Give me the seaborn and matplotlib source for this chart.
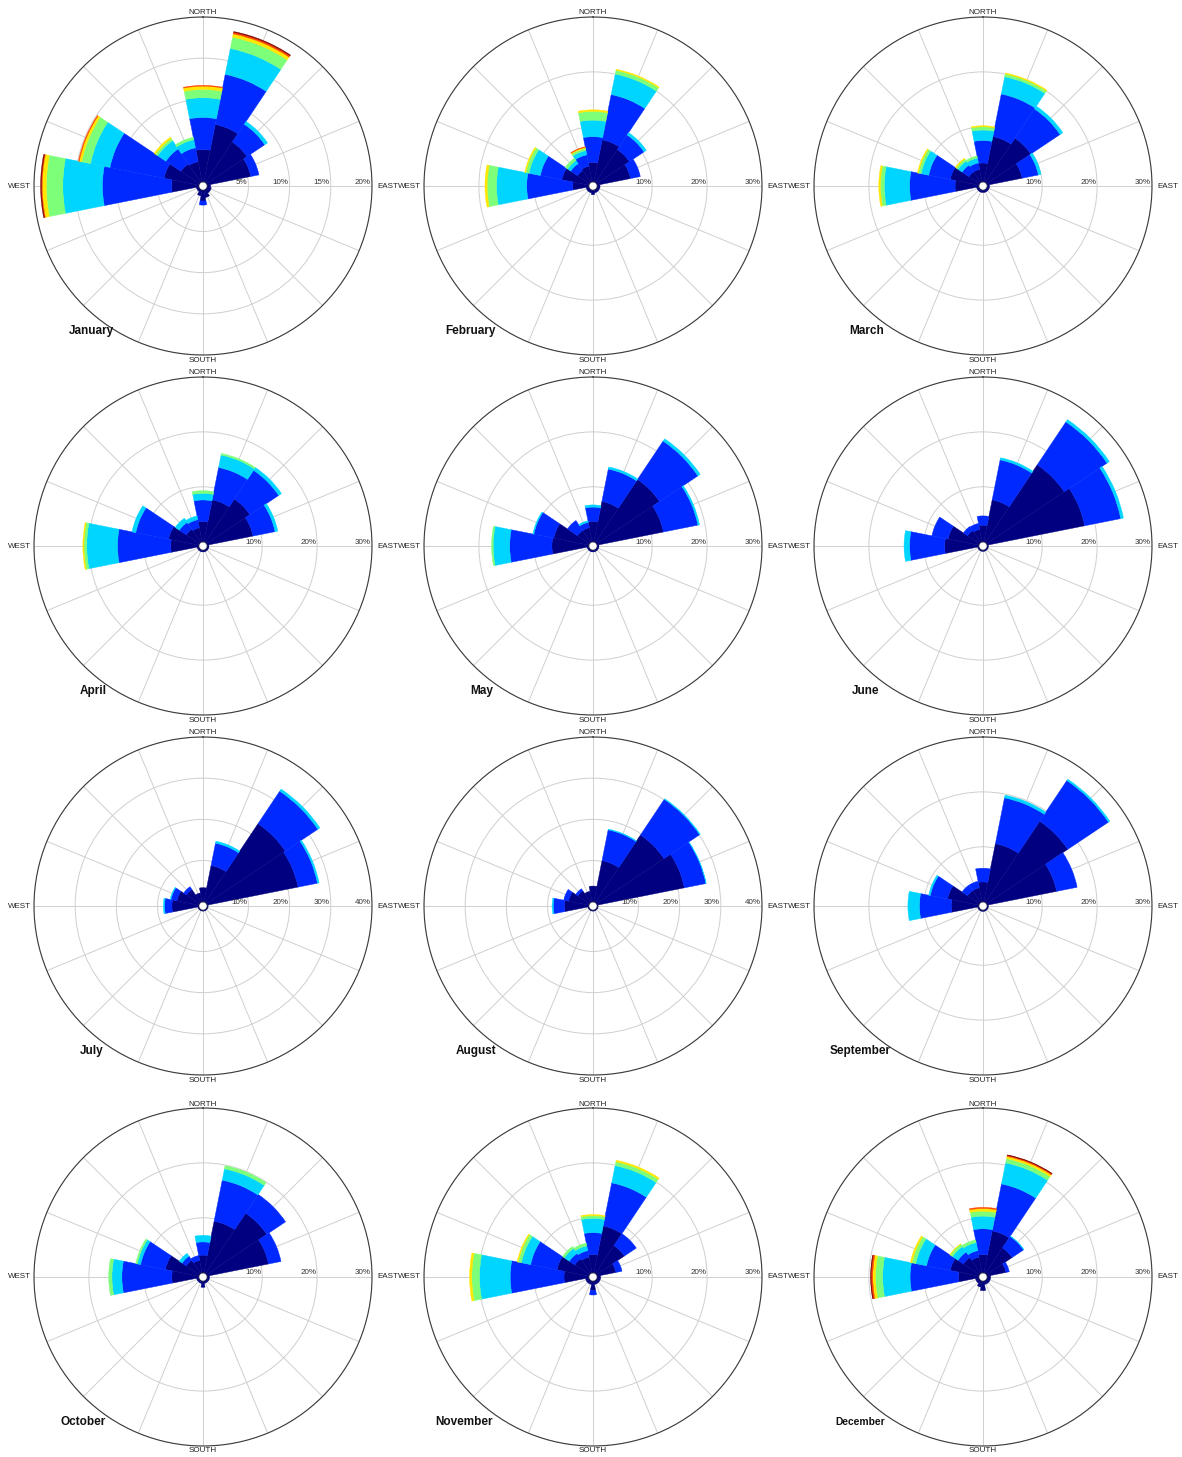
import numpy as np
import matplotlib
matplotlib.use("Agg")
import matplotlib.pyplot as plt
import seaborn as sns

# 16 compass sectors, clockwise from north
directions = ["N", "NNE", "NE", "ENE", "E", "ESE", "SE", "SSE",
              "S", "SSW", "SW", "WSW", "W", "WNW", "NW", "NNW"]

months = ["January", "February", "March", "April", "May", "June",
          "July", "August", "September", "October", "November", "December"]

# frequency (%) per direction, split by speed class (lowest class first)
freq_jan = [[3.9, 3.9, 2.4, 1.0, 0.4, 0.1], [7.1, 6.2, 3.2, 1.4, 0.4, 0.2, 0.1],
            [5.9, 2.6, 0.4], [5.4, 1.0], [0.4], [0.5], [0.5], [0.9],
            [1.3, 0.5], [0.7], [0.3], [0.3],
            [3.3, 8.4, 4.8, 2.0, 0.5, 0.1, 0.1], [4.3, 6.7, 2.4, 1.1, 0.3, 0.1],
            [2.7, 2.2, 1.2, 0.3, 0.2], [2.5, 1.7, 1.0, 0.3]]
freq_feb = [[3.5, 4.7, 3.0, 1.6, 0.3], [7.8, 8.4, 3.8, 0.7, 0.2],
            [7.2, 3.2, 0.5], [6.2, 1.8], [0.5], [0.5], [0.5], [0.5],
            [0.8], [0.5], [0.5], [0.5],
            [2.9, 8.4, 5.5, 1.7, 0.4], [5.0, 4.0, 2.1, 0.6, 0.2],
            [2.6, 1.5, 0.7, 0.5], [2.9, 2.1, 0.8, 0.4, 0.2, 0.1]]
freq_mar = [[3.4, 4.1, 1.9, 0.6, 0.2], [8.4, 7.9, 3.2, 0.5, 0.2],
            [9.7, 6.4, 0.6], [6.5, 3.0, 0.5], [0.4], [0.4], [0.4], [0.4],
            [0.4], [0.4], [0.4], [0.4],
            [4.3, 8.3, 4.6, 0.7, 0.3], [5.3, 4.0, 1.4, 0.5, 0.2],
            [2.3, 1.5, 0.9, 0.4, 0.2], [2.3, 1.2, 0.9, 0.4]]
freq_apr = [[3.7, 3.9, 1.2, 0.5], [7.8, 6.0, 2.3, 0.3],
            [9.5, 6.3, 0.6], [8.5, 4.1, 0.5], [0.3], [0.3], [0.3], [0.3],
            [0.3], [0.3], [0.3], [0.3],
            [5.1, 9.7, 5.6, 0.5, 0.2], [5.6, 6.1, 0.7],
            [2.9, 1.5, 0.9], [2.6, 1.5, 0.7]]
freq_may = [[3.7, 2.6, 0.4], [7.5, 6.0, 0.4],
            [13.8, 8.4, 0.5], [12.3, 6.4, 0.3], [0.3], [0.3], [0.3], [0.3],
            [0.3], [0.3], [0.3], [0.3],
            [6.7, 7.7, 3.0, 0.3], [6.5, 3.7, 0.2],
            [2.6, 2.2], [2.6, 1.0, 0.3]]
freq_jun = [[3.0, 1.7], [7.8, 7.4, 0.4],
            [17.0, 9.4, 0.5], [18.1, 6.7, 0.5], [0.2], [0.2], [0.2], [0.2],
            [0.2], [0.2], [0.2], [0.2],
            [6.2, 6.4, 1.0], [5.7, 3.0],
            [2.6, 0.9], [2.3, 1.1]]
freq_jul = [[3.4], [9.0, 5.5, 0.5],
            [23.0, 9.5, 0.6], [22.5, 4.8, 0.4], [0.2], [0.2], [0.2], [0.2],
            [0.2], [0.2], [0.2], [0.2],
            [6.5, 1.8, 0.3], [5.4, 1.5, 0.2],
            [3.8, 0.8], [2.2]]
freq_aug = [[3.8], [10.2, 7.6, 0.2],
            [19.7, 10.4, 0.2], [21.6, 5.3, 0.1], [0.2], [0.2], [0.2], [0.2],
            [0.2], [0.2], [0.2], [0.2],
            [5.9, 2.7, 0.3], [5.0, 1.2],
            [3.4, 0.6], [2.6]]
freq_sep = [[3.6, 2.5], [10.8, 8.5, 0.5],
            [17.8, 8.9, 0.3], [12.9, 3.8], [0.2], [0.2], [0.2], [0.2],
            [0.2], [0.2], [0.2], [0.2],
            [5.0, 5.8, 2.1], [5.8, 3.2, 0.3],
            [2.6, 1.2], [2.6, 1.2]]
freq_oct = [[3.2, 2.4, 1.2], [9.6, 7.6, 2.1, 0.6],
            [13.2, 4.1], [11.4, 2.3], [0.4], [0.4], [0.4], [0.4],
            [1.1], [0.4], [0.4], [0.4],
            [4.9, 9.1, 1.8, 0.6], [6.2, 4.6, 0.6, 0.3],
            [2.9, 0.9, 0.6], [2.3, 0.9]]
freq_nov = [[3.3, 4.0, 2.6, 0.5, 0.2], [8.7, 8.0, 3.2, 0.7, 0.3],
            [6.1, 2.6], [3.5, 1.1], [0.6], [0.6], [0.6], [0.6],
            [1.7, 0.8], [0.6], [0.6], [0.6],
            [4.5, 9.8, 5.6, 1.4, 0.4], [5.9, 4.9, 1.7, 0.6, 0.2],
            [3.2, 1.2, 1.1, 0.4], [2.9, 1.2, 0.9, 0.5]]
freq_dec = [[3.3, 4.7, 2.3, 0.9, 0.5, 0.2], [7.8, 8.7, 3.9, 0.8, 0.4, 0.2, 0.1],
            [5.6, 2.5, 0.1], [3.5, 0.6], [0.6], [0.6], [0.6], [0.6],
            [1.7], [1.1], [0.6], [0.6],
            [3.7, 8.8, 5.0, 1.3, 0.5, 0.3, 0.1], [5.3, 4.4, 2.0, 0.7, 0.3],
            [3.5, 1.2, 1.2, 0.5, 0.1], [2.9, 1.2, 1.5, 0.5]]

# outer ring (%) and ring ticks of each rose
r_max = [20, 30, 30, 30, 30, 30, 40, 40, 30, 30, 30, 30]
r_ticks = [[5, 10, 15, 20], [10, 20, 30], [10, 20, 30], [10, 20, 30],
           [10, 20, 30], [10, 20, 30], [10, 20, 30, 40], [10, 20, 30, 40],
           [10, 20, 30], [10, 20, 30], [10, 20, 30], [10, 20, 30]]

monthly = [freq_jan, freq_feb, freq_mar, freq_apr, freq_may, freq_jun,
           freq_jul, freq_aug, freq_sep, freq_oct, freq_nov, freq_dec]

N_BINS = 7

sns.set_theme(style="white")
plt.rcParams["font.family"] = ["Liberation Sans", "DejaVu Sans"]
colors = sns.color_palette(list(plt.get_cmap("jet")(np.linspace(0, 1, N_BINS))[:, :3]))

W, H = 1182, 1457
fig = plt.figure(figsize=(W / 100, H / 100), dpi=100)

R = 169.0          # rose radius in pixels
HOLE = 4.3         # empty centre radius in pixels
col_x = [203, 593, 983]
row_y = [186, 546, 906, 1277]
title_dx = [-112, -123, -116, -110, -111, -117, -111, -117, -123, -120, -129, -123]
title_size = [8.5] * 11 + [7.4]

theta = np.deg2rad(np.arange(16) * 22.5)
width = 2 * np.pi / 16

for m, (name, table) in enumerate(zip(months, monthly)):
    cx = col_x[m % 3]
    cy = row_y[m // 3]
    ax = fig.add_axes([(cx - R) / W, 1 - (cy + R) / H, 2 * R / W, 2 * R / H],
                      projection="polar")
    ax.set_theta_zero_location("N")
    ax.set_theta_direction(-1)
    vmax = r_max[m]
    ax.set_rorigin(-HOLE * vmax / (R - HOLE))
    ax.set_ylim(0, vmax)

    mat = np.zeros((16, N_BINS))
    for i, row in enumerate(table):
        mat[i, :len(row)] = row
    base = np.zeros(16)
    for b in range(N_BINS):
        h = mat[:, b]
        keep = h > 0
        if keep.any():
            ax.bar(theta[keep], h[keep], width=width, bottom=base[keep],
                   color=colors[b], edgecolor=colors[b], linewidth=0.3,
                   align="center", zorder=2)
        base = base + h

    ax.set_thetagrids(np.arange(0, 360, 22.5), labels=[])
    ax.set_yticks(r_ticks[m])
    ax.set_yticklabels([])
    ax.set_axisbelow(True)
    ax.grid(True, color="#cfcfcf", linewidth=0.7)
    ax.spines["polar"].set_color("#3a3a3a")
    ax.spines["polar"].set_linewidth(0.8)
    if "inner" in ax.spines:
        ax.spines["inner"].set_color("#1a1a50")
        ax.spines["inner"].set_linewidth(0.8)
    ax.tick_params(pad=0)

    for t in r_ticks[m]:
        ax.annotate(f"{t}%", xy=(np.pi / 2, t), xytext=(-1, 4),
                    textcoords="offset pixels", ha="right", va="center",
                    fontsize=5.8, color="#333333", annotation_clip=False)

    def ax_frac(dx, dy):
        return 0.5 + dx / (2 * R), 0.5 - dy / (2 * R)

    for lab, (dx, dy), ha in [("NORTH", (0, -173), "center"),
                              ("SOUTH", (0, 174), "center"),
                              ("WEST", (-172, 0), "right"),
                              ("EAST", (174, 0), "left")]:
        ax.text(*ax_frac(dx, dy), lab, transform=ax.transAxes, ha=ha,
                va="center", fontsize=5.8, color="#222222")

    ax.text(*ax_frac(title_dx[m], 145), name, transform=ax.transAxes,
            ha="center", va="center", fontsize=title_size[m],
            fontweight="bold", color="#111111")

fig.savefig("out.png", dpi=100, facecolor="white")
